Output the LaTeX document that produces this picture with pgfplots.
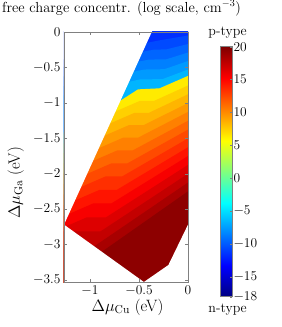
\RequirePackage{fix-cm}
\documentclass[border=0pt]{standalone}
\usepackage{pgfplots}
\pgfplotsset{compat=1.18}
\definecolor{axgray}{gray}{0.5}
\definecolor{nb0}{rgb}{0,0.184,1}
\definecolor{nb1}{rgb}{0,0.289,1}
\definecolor{nb2}{rgb}{0,0.395,1}
\definecolor{nb3}{rgb}{0,0.5,1}
\definecolor{nb4}{rgb}{0,0.605,1}
\definecolor{nb5}{rgb}{0,0.711,1}
\definecolor{pb0}{rgb}{1,0.921,0}
\definecolor{pb1}{rgb}{1,0.816,0}
\definecolor{pb2}{rgb}{1,0.711,0}
\definecolor{pb3}{rgb}{1,0.605,0}
\definecolor{pb4}{rgb}{1,0.5,0}
\definecolor{pb5}{rgb}{1,0.395,0}
\definecolor{pb6}{rgb}{1,0.289,0}
\definecolor{pb7}{rgb}{1,0.184,0}
\definecolor{pb8}{rgb}{1,0.079,0}
\definecolor{pb9}{rgb}{0.974,0,0}
\definecolor{pb10}{rgb}{0.868,0,0}
\definecolor{pb11}{rgb}{0.763,0,0}
\definecolor{pb12}{rgb}{0.658,0,0}
\definecolor{pb13}{rgb}{0.553,0,0}
\begin{document}
\begin{tikzpicture}
\path[use as bounding box] (-64bp,-45bp) rectangle (218bp,282bp);
\begin{axis}[
  name=main,
  scale only axis, width=124bp, height=250bp,
  xmin=-1.265, xmax=0, ymin=-3.53, ymax=0,
  xtick={-1,-0.5,0},
  ytick={-3.5,-3,-2.5,-2,-1.5,-1,-0.5,0},
  tick align=inside, major tick length=3bp,
  axis on top,
  axis line style={axgray},
  tick style={axgray},
  tick label style={font=\fontsize{13.5}{15}\selectfont},
  title={free charge concentr. (log scale, cm$^{-3}$)},
  title style={font=\fontsize{14.6}{17}\selectfont, at={(axis description cs:0.464,1.056)}, anchor=base, inner sep=0pt},
  xlabel={$\Delta\mu_{\rm Cu}$ (eV)},
  xlabel style={font=\fontsize{16.5}{19}\selectfont, at={(axis description cs:0.512,-0.116)}, anchor=base, inner sep=0pt},
  ylabel={$\Delta\mu_{\rm Ga}$ (eV)},
  ylabel style={font=\fontsize{16.5}{19}\selectfont, at={(axis description cs:-0.355,0.396)}, anchor=base, inner sep=0pt},
]
% n-type bands (top)
\addplot[fill=nb0, draw=none] coordinates {(-1.5,0.1) (0.1,0.1) (0.1,-4) (-1.5,-4)} -- cycle;
\addplot[fill=nb1, draw=none] coordinates {(-1.5,-0.45) (-0.30,-0.12) (0,-0.05) (0.1,-0.02) (0.1,-4) (-1.5,-4)} -- cycle;
\addplot[fill=nb2, draw=none] coordinates {(-1.5,-0.55) (-0.35,-0.25) (-0.22,-0.245) (0,-0.17) (0.1,-0.14) (0.1,-4) (-1.5,-4)} -- cycle;
\addplot[fill=nb3, draw=none] coordinates {(-1.5,-0.69) (-0.40,-0.39) (-0.22,-0.385) (0,-0.29) (0.1,-0.25) (0.1,-4) (-1.5,-4)} -- cycle;
\addplot[fill=nb4, draw=none] coordinates {(-1.5,-0.83) (-0.445,-0.53) (-0.24,-0.525) (0,-0.41) (0.1,-0.36) (0.1,-4) (-1.5,-4)} -- cycle;
\addplot[fill=nb5, draw=none] coordinates {(-1.5,-0.97) (-0.49,-0.67) (-0.26,-0.665) (0,-0.53) (0.1,-0.47) (0.1,-4) (-1.5,-4)} -- cycle;
% p-type bands
\addplot[fill=pb0, draw=none] coordinates {(-1.5,-1.595) (-0.69,-0.97) (-0.51,-0.81) (-0.29,-0.795) (0,-0.62) (0.1,-0.56) (0.1,-4) (-1.5,-4)} -- cycle;
\addplot[fill=pb1, draw=none] coordinates {(-1.5,-1.578) (-0.490,-0.972) (-0.345,-0.972) (0,-0.755) (0.1,-0.692) (0.1,-4) (-1.5,-4)} -- cycle;
\addplot[fill=pb2, draw=none] coordinates {(-1.5,-1.714) (-0.545,-1.141) (-0.399,-1.141) (0,-0.879) (0.1,-0.813) (0.1,-4) (-1.5,-4)} -- cycle;
\addplot[fill=pb3, draw=none] coordinates {(-1.5,-1.853) (-0.603,-1.315) (-0.454,-1.315) (0,-1.004) (0.1,-0.936) (0.1,-4) (-1.5,-4)} -- cycle;
\addplot[fill=pb4, draw=none] coordinates {(-1.5,-1.995) (-0.660,-1.491) (-0.508,-1.491) (0,-1.128) (0.1,-1.057) (0.1,-4) (-1.5,-4)} -- cycle;
\addplot[fill=pb5, draw=none] coordinates {(-1.5,-2.139) (-0.720,-1.671) (-0.563,-1.671) (0,-1.253) (0.1,-1.179) (0.1,-4) (-1.5,-4)} -- cycle;
\addplot[fill=pb6, draw=none] coordinates {(-1.5,-2.286) (-0.780,-1.854) (-0.618,-1.854) (0,-1.378) (0.1,-1.301) (0.1,-4) (-1.5,-4)} -- cycle;
\addplot[fill=pb7, draw=none] coordinates {(-1.5,-2.434) (-0.841,-2.039) (-0.672,-2.039) (0,-1.502) (0.1,-1.422) (0.1,-4) (-1.5,-4)} -- cycle;
\addplot[fill=pb8, draw=none] coordinates {(-1.5,-2.587) (-0.903,-2.229) (-0.727,-2.229) (0,-1.627) (0.1,-1.544) (0.1,-4) (-1.5,-4)} -- cycle;
\addplot[fill=pb9, draw=none] coordinates {(-1.5,-2.740) (-0.966,-2.420) (-0.781,-2.420) (0,-1.751) (0.1,-1.665) (0.1,-4) (-1.5,-4)} -- cycle;
\addplot[fill=pb10, draw=none] coordinates {(-1.5,-2.897) (-1.031,-2.616) (-0.836,-2.616) (0,-1.876) (0.1,-1.788) (0.1,-4) (-1.5,-4)} -- cycle;
\addplot[fill=pb11, draw=none] coordinates {(-1.5,-2.814) (-0.891,-2.814) (0,-2.001) (0.1,-1.910) (0.1,-4) (-1.5,-4)} -- cycle;
\addplot[fill=pb12, draw=none] coordinates {(-1.5,-3.015) (-0.945,-3.015) (0,-2.125) (0.1,-2.031) (0.1,-4) (-1.5,-4)} -- cycle;
\addplot[fill=pb13, draw=none] coordinates {(-1.5,-3.22) (-1.0,-3.22) (0,-2.25) (0.1,-2.153) (0.1,-4) (-1.5,-4)} -- cycle;
% outside of the stability region
\addplot[fill=white, draw=none] coordinates {(-1.5,0.1) (-0.337,0.1) (-0.37,0) (-1.265,-2.72) (-0.45,-3.53) (-0.45,-4) (-1.5,-4)} -- cycle;
\addplot[fill=white, draw=none] coordinates {(-0.45,-3.53) (-0.2,-3.29) (0,-2.72) (0.1,-2.72) (0.1,-4) (-0.45,-4)} -- cycle;
\end{axis}
% colour bar
\begin{axis}[
  name=cb,
  at={(main.north east)}, anchor=north west, xshift=32bp, yshift=-14.7bp,
  scale only axis, width=12.3bp, height=250bp,
  xmin=0, xmax=1, ymin=-18, ymax=20,
  xtick=\empty,
  ytick={-18,-15,-10,-5,0,5,10,15,20},
  ytick pos=right, yticklabel pos=right,
  tick align=inside, major tick length=2.5bp,
  axis on top,
  axis line style={axgray},
  tick style={axgray},
  yticklabel style={font=\fontsize{13.5}{15}\selectfont, inner sep=1bp},
  colormap/jet,
  point meta min=-18, point meta max=20,
]
\addplot[surf, shader=interp, point meta=\thisrow{c}] table {
x y c
0 -18 -18
1 -18 -18

0 20 20
1 20 20
};
\end{axis}
\node[anchor=base, font=\fontsize{14}{16}\selectfont, inner sep=0pt] at ([xshift=1.5bp,yshift=11bp]cb.north) {p-type};
\node[anchor=base, font=\fontsize{14}{16}\selectfont, inner sep=0pt] at ([xshift=1.5bp,yshift=-15.5bp]cb.south) {n-type};
\end{tikzpicture}
\end{document}
